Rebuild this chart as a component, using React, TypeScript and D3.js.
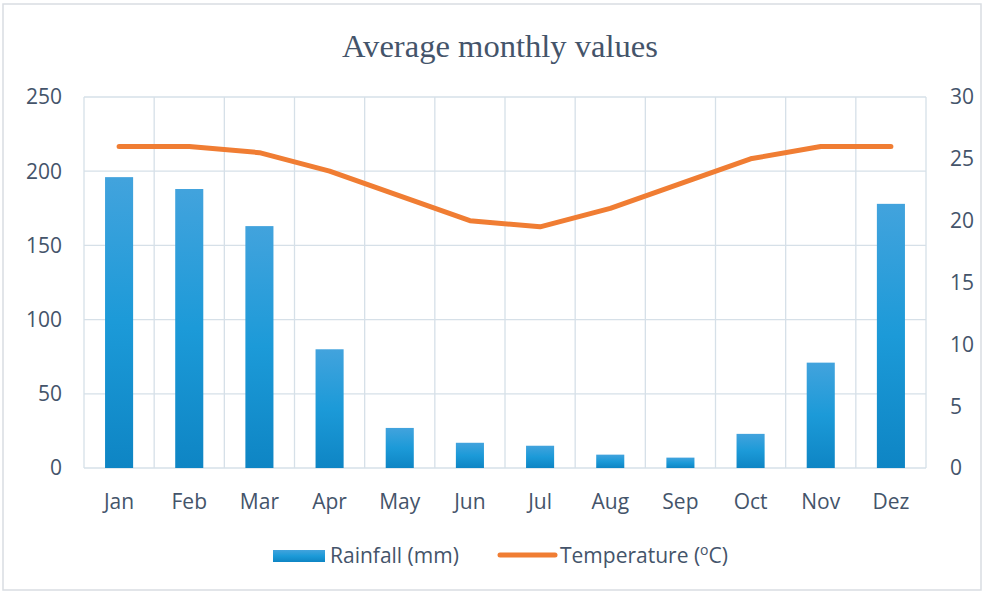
import React from "react";
import * as d3 from "d3";

const months = ["Jan", "Feb", "Mar", "Apr", "May", "Jun", "Jul", "Aug", "Sep", "Oct", "Nov", "Dez"];
const rainfall = [196, 188, 163, 80, 27, 17, 15, 9, 7, 23, 71, 178];
const temperature = [26, 26, 25.5, 24, 22, 20, 19.5, 21, 23, 25, 26, 26];
const rainTicks = [0, 50, 100, 150, 200, 250];
const tempTicks = [0, 5, 10, 15, 20, 25, 30];

const width = 985;
const height = 594;
const margin = { top: 97, right: 59, bottom: 126, left: 84 };
const textColor = "#44546A";
const labelFont = "'Open Sans', Lato, sans-serif";

export default function App() {
  const innerW = width - margin.left - margin.right;
  const innerH = height - margin.top - margin.bottom;

  const x = d3.scaleBand().domain(months).range([0, innerW]);
  const yL = d3.scaleLinear().domain([0, 250]).range([innerH, 0]);
  const yR = d3.scaleLinear().domain([0, 30]).range([innerH, 0]);

  const barW = x.bandwidth() * 0.4;

  const line = d3
    .line<number>()
    .x((_, i) => x(months[i])! + x.bandwidth() / 2)
    .y(d => yR(d));

  return (
    <svg width={width} height={height} style={{ position: "absolute", left: 0, top: 0, background: "#fff" }}>
      <defs>
        <linearGradient id="barGrad" x1="0" y1="0" x2="0" y2="1">
          <stop offset="0%" stopColor="#42A3DD" />
          <stop offset="50%" stopColor="#1C9AD8" />
          <stop offset="100%" stopColor="#0E85C4" />
        </linearGradient>
      </defs>
      <rect x={3} y={4} width={width - 7} height={height - 8} fill="#fff" stroke="#D9DDE2" strokeWidth={1.5} />

      <text
        x={500}
        y={57}
        textAnchor="middle"
        fill={textColor}
        textLength={316}
        lengthAdjust="spacingAndGlyphs"
        style={{ fontFamily: "'Liberation Serif', 'Times New Roman', serif", fontSize: "31px" }}
      >
        Average monthly values
      </text>

      <g transform={`translate(${margin.left},${margin.top})`}>
        {/* horizontal grid */}
        {rainTicks.map(t => (
          <line key={"h" + t} x1={0} x2={innerW} y1={yL(t)} y2={yL(t)} stroke="#D6E0E8" strokeWidth={1.3} />
        ))}
        {/* vertical grid at category boundaries */}
        {months.map(m => (
          <line key={"v" + m} x1={x(m)!} x2={x(m)!} y1={0} y2={innerH} stroke="#D6E0E8" strokeWidth={1.3} />
        ))}
        <line x1={innerW} x2={innerW} y1={0} y2={innerH} stroke="#D6E0E8" strokeWidth={1.3} />

        {/* bars */}
        {rainfall.map((v, i) => (
          <rect
            key={"b" + i}
            x={x(months[i])! + (x.bandwidth() - barW) / 2}
            y={yL(v)}
            width={barW}
            height={innerH - yL(v)}
            fill="url(#barGrad)"
          />
        ))}

        {/* temperature line */}
        <path d={line(temperature)!} fill="none" stroke="#F07D33" strokeWidth={5} strokeLinecap="round" strokeLinejoin="round" />

        {/* left axis labels */}
        {rainTicks.map(t => (
          <text
            key={"l" + t}
            x={-22}
            y={yL(t)}
            dy="0.35em"
            textAnchor="end"
            fill={textColor}
            style={{ fontFamily: labelFont, fontSize: "21px" }}
          >
            {t}
          </text>
        ))}
        {/* right axis labels */}
        {tempTicks.map(t => (
          <text
            key={"r" + t}
            x={innerW + 24}
            y={yR(t)}
            dy="0.35em"
            textAnchor="start"
            fill={textColor}
            style={{ fontFamily: labelFont, fontSize: "21px" }}
          >
            {t}
          </text>
        ))}
        {/* x labels */}
        {months.map(m => (
          <text
            key={"x" + m}
            x={x(m)! + x.bandwidth() / 2}
            y={innerH + 41}
            textAnchor="middle"
            fill={textColor}
            style={{ fontFamily: labelFont, fontSize: "21px" }}
          >
            {m}
          </text>
        ))}
      </g>

      {/* legend */}
      <g style={{ fontFamily: labelFont, fontSize: "21px" }} fill={textColor}>
        <rect x={273} y={550} width={52} height={12} fill="url(#barGrad)" />
        <text x={330} y={563}>Rainfall (mm)</text>
        <line x1={500} x2={555} y1={555} y2={555} stroke="#F07D33" strokeWidth={5} strokeLinecap="round" />
        <text x={560} y={563}>
          Temperature (
          <tspan dy={-8} style={{ fontSize: "14px" }}>o</tspan>
          <tspan dy={8}>C)</tspan>
        </text>
      </g>
    </svg>
  );
}
